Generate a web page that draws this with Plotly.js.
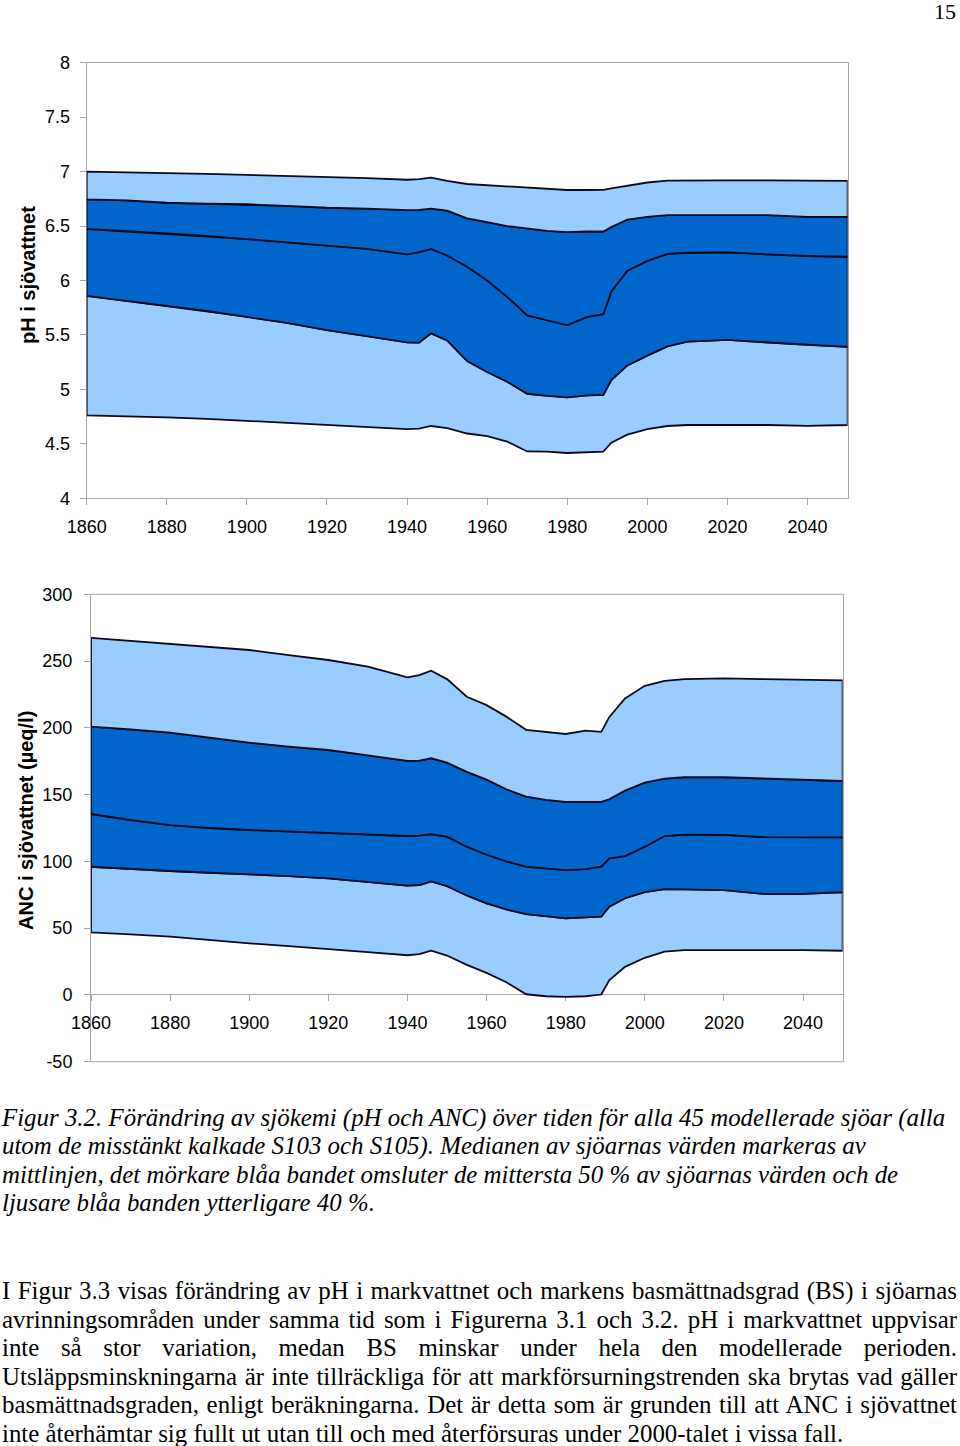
<!DOCTYPE html>
<html>
<head>
<meta charset="utf-8">
<script src="https://cdn.plot.ly/plotly-3.0.1.min.js"></script>
<style>
  html, body { margin: 0; padding: 0; background: #fff; }
  #wrap { position: relative; width: 960px; height: 1446px; overflow: hidden; }
  #chart { position: absolute; left: 0; top: 0; width: 960px; height: 1446px; }
  .serif { font-family: "Liberation Serif", "Times New Roman", "DejaVu Serif", serif; color: #000; }
  #pagenum { position: absolute; right: 4px; top: 4px; font-size: 22px; line-height: 16px; }
  #caption { position: absolute; left: 2px; top: 1104px; font-size: 24.9px; line-height: 28.4px; font-style: italic; white-space: nowrap; }
  #para { position: absolute; left: 2px; top: 1277px; width: 955px; font-size: 24.9px; line-height: 28.5px; }
  #para .j { text-align: justify; text-align-last: justify; white-space: nowrap; }
  #para .l { text-align: left; white-space: nowrap; }
</style>
</head>
<body>
<div id="wrap">
  <div id="chart"></div>
  <div id="pagenum" class="serif">15</div>
  <div id="caption" class="serif">Figur 3.2. Förändring av sjökemi (pH och ANC) över tiden för alla 45 modellerade sjöar (alla<br>utom de misstänkt kalkade S103 och S105). Medianen av sjöarnas värden markeras av<br>mittlinjen, det mörkare blåa bandet omsluter de mittersta 50 % av sjöarnas värden och de<br>ljusare blåa banden ytterligare 40 %.</div>
  <div id="para" class="serif">
    <div class="j">I Figur 3.3 visas förändring av pH i markvattnet och markens basmättnadsgrad (BS) i sjöarnas</div>
    <div class="j">avrinningsområden under samma tid som i Figurerna 3.1 och 3.2. pH i markvattnet uppvisar</div>
    <div class="j">inte så stor variation, medan BS minskar under hela den modellerade perioden.</div>
    <div class="j">Utsläppsminskningarna är inte tillräckliga för att markförsurningstrenden ska brytas vad gäller</div>
    <div class="j">basmättnadsgraden, enligt beräkningarna. Det är detta som är grunden till att ANC i sjövattnet</div>
    <div class="l">inte återhämtar sig fullt ut utan till och med återförsuras under 2000-talet i vissa fall.</div>
  </div>
</div>
<script>
// ---- data ----
const years = [1860,1870,1880,1890,1900,1910,1920,1930,1940,1943,1946,1950,1955,1960,1965,1970,1975,1980,1985,1989,1991,1995,2000,2005,2010,2020,2030,2040,2050];

const ph_p95 = [7.00,6.995,6.99,6.98,6.97,6.96,6.953,6.94,6.925,6.93,6.945,6.915,6.886,6.875,6.86,6.847,6.84,6.831,6.831,6.832,6.845,6.87,6.90,6.918,6.92,6.92,6.92,6.92,6.915];
const ph_p75 = [6.745,6.735,6.714,6.705,6.70,6.685,6.668,6.66,6.647,6.648,6.66,6.642,6.571,6.535,6.50,6.478,6.455,6.445,6.45,6.45,6.49,6.56,6.585,6.60,6.60,6.60,6.60,6.585,6.585];
const ph_p50 = [6.473,6.45,6.433,6.41,6.381,6.35,6.32,6.29,6.24,6.26,6.289,6.23,6.127,6.0,5.85,5.68,5.635,5.59,5.665,5.69,5.90,6.09,6.18,6.245,6.255,6.258,6.24,6.225,6.218];
const ph_p25 = [5.858,5.81,5.766,5.72,5.668,5.61,5.545,5.49,5.432,5.43,5.515,5.45,5.26,5.16,5.07,4.96,4.94,4.927,4.945,4.95,5.086,5.22,5.31,5.395,5.438,5.454,5.43,5.41,5.39];
const ph_p5  = [4.762,4.752,4.744,4.73,4.713,4.695,4.673,4.655,4.636,4.64,4.664,4.645,4.595,4.572,4.52,4.43,4.428,4.416,4.42,4.428,4.51,4.585,4.635,4.664,4.673,4.673,4.673,4.665,4.673];

const anc_p95 = [267.3,265,262.8,260.5,258.3,254.5,250.8,245.8,237.8,239.5,242.8,236.5,223.3,217,208.4,198.5,197.2,195.4,197.9,197,208,222,231.5,235.1,236.5,237,236.5,236,235.5];
const anc_p75 = [200.9,198.8,196.4,192.7,188.9,186,183.4,179.5,175.2,175.5,177.2,173.9,167,161.2,154,148.5,146,144.6,144.6,144.6,146.5,153,159,162,163,163,162,161,160.2];
const anc_p50 = [135.5,131,127.2,125,123.5,122.3,121.2,120,119,119.3,120.3,118.5,111,105,100,96,94.5,93.5,94.2,96,102.3,104,111,119,120,119.8,118.2,118,118];
const anc_p25 = [96,94.3,92.8,91.5,90.5,89,87.3,84.5,81.8,82.3,85,81.5,74.5,68.5,64,60.5,59,57.4,58.1,58.6,66,72.4,77,79.3,79,78.5,75.6,75.6,76.9];
const anc_p5  = [46.9,45.3,43.6,41,38.6,36.5,34.4,32,29.7,30.5,33.1,29.5,22.5,16.5,9.5,0.5,-1,-1.5,-1,0.3,11,21,27.8,32.5,33.5,33.6,33.5,33.5,33.1];

const xTicks = [1860,1880,1900,1920,1940,1960,1980,2000,2020,2040];
const phTicks = [4,4.5,5,5.5,6,6.5,7,7.5,8];
const phTickText = ['4','4.5','5','5.5','6','6.5','7','7.5','8'];
const ancTicks = [-50,0,50,100,150,200,250,300];

// ---- styles ----
const LIGHT = '#99CCFF';
const DARK = '#0066CC';
const EDGE = '#0a0a1e';
const AXIS = '#a6a6a6';
const FONT = 'Arial, "Liberation Sans", sans-serif';

function band(lower, upper, color, xa, ya) {
  const x = years.concat(years.slice().reverse(), [years[0]]);
  const y = upper.concat(lower.slice().reverse(), [upper[0]]);
  return {
    type: 'scatter', mode: 'lines', x: x, y: y, xaxis: xa, yaxis: ya,
    fill: 'toself', fillcolor: color,
    line: {color: EDGE, width: 1.8},
    hoverinfo: 'skip', showlegend: false
  };
}

const traces = [
  band(ph_p5, ph_p25, LIGHT, 'x', 'y'),
  band(ph_p25, ph_p50, DARK, 'x', 'y'),
  band(ph_p50, ph_p75, DARK, 'x', 'y'),
  band(ph_p75, ph_p95, LIGHT, 'x', 'y'),
  band(anc_p5, anc_p25, LIGHT, 'x2', 'y2'),
  band(anc_p25, anc_p50, DARK, 'x2', 'y2'),
  band(anc_p50, anc_p75, DARK, 'x2', 'y2'),
  band(anc_p75, anc_p95, LIGHT, 'x2', 'y2')
];

const W = 960, H = 1446;
const px = v => v / W;
const py = v => 1 - v / H;

const tickFont = {family: FONT, size: 18, color: '#000'};

const layout = {
  width: W, height: H, autosize: false,
  margin: {l: 0, r: 0, t: 0, b: 0, pad: 0},
  paper_bgcolor: '#fff', plot_bgcolor: 'rgba(0,0,0,0)',
  showlegend: false,
  font: {family: FONT, color: '#000'},
  xaxis: {
    domain: [px(86.7), px(847.6)], anchor: 'y', range: [1860, 2050],
    tickmode: 'array', tickvals: xTicks, ticktext: xTicks.map(String),
    ticks: 'outside', ticklen: 6, tickcolor: AXIS, tickwidth: 1,
    showline: true, linecolor: AXIS, linewidth: 1, mirror: true,
    showgrid: false, zeroline: false, tickfont: tickFont,
    ticklabelstandoff: 6, layer: 'below traces', fixedrange: true
  },
  yaxis: {
    domain: [py(498.3), py(62.7)], anchor: 'x', range: [4, 8],
    tickmode: 'array', tickvals: phTicks, ticktext: phTickText,
    ticks: 'outside', ticklen: 6, tickcolor: AXIS,
    showline: true, linecolor: AXIS, linewidth: 1, mirror: true,
    showgrid: false, zeroline: false, tickfont: tickFont,
    ticklabelstandoff: 6, layer: 'below traces', fixedrange: true
  },
  yaxis3: {
    overlaying: 'y', side: 'right', anchor: 'x', range: [4, 8],
    tickmode: 'array', tickvals: phTicks, ticktext: phTickText,
    ticks: 'inside', ticklen: 6, tickcolor: AXIS,
    showline: false, showgrid: false, zeroline: false, tickfont: tickFont,
    ticklabelstandoff: 12, layer: 'below traces', fixedrange: true
  },
  xaxis2: {
    domain: [px(91), px(842.6)], anchor: 'free', position: py(994), range: [1860, 2050],
    tickmode: 'array', tickvals: xTicks, ticktext: xTicks.map(String),
    ticks: 'outside', ticklen: 6, tickcolor: AXIS, tickwidth: 1,
    showline: true, linecolor: AXIS, linewidth: 1,
    showgrid: false, zeroline: false, tickfont: tickFont,
    ticklabelstandoff: 6, layer: 'below traces', fixedrange: true
  },
  yaxis2: {
    domain: [py(1061.7), py(594.3)], anchor: 'x2', range: [-50, 300],
    tickmode: 'array', tickvals: ancTicks, ticktext: ancTicks.map(String),
    ticks: 'outside', ticklen: 6, tickcolor: AXIS,
    showline: true, linecolor: AXIS, linewidth: 1, mirror: true,
    showgrid: false, zeroline: false, tickfont: tickFont,
    ticklabelstandoff: 8, layer: 'below traces', fixedrange: true
  },
  yaxis4: {
    overlaying: 'y2', side: 'right', anchor: 'x2', range: [-50, 300],
    tickmode: 'array', tickvals: ancTicks, ticktext: ancTicks.map(String),
    ticks: 'inside', ticklen: 6, tickcolor: AXIS,
    showline: false, showgrid: false, zeroline: false, tickfont: tickFont,
    ticklabelstandoff: 12, layer: 'below traces', fixedrange: true
  },
  shapes: [
    {type: 'line', xref: 'x2 domain', yref: 'y2 domain', x0: 0, x1: 1, y0: 1, y1: 1,
     line: {color: AXIS, width: 1}, layer: 'below'},
    {type: 'line', xref: 'x2 domain', yref: 'y2 domain', x0: 0, x1: 1, y0: 0, y1: 0,
     line: {color: AXIS, width: 1}, layer: 'below'}
  ],
  annotations: [
    {text: '<b>pH i sjövattnet</b>', xref: 'paper', yref: 'paper', x: px(28), y: py(275),
     textangle: -90, showarrow: false, xanchor: 'center', yanchor: 'middle',
     font: {family: FONT, size: 20, color: '#000'}},
    {text: '<b>ANC i sjövattnet (µeq/l)</b>', xref: 'paper', yref: 'paper', x: px(26), y: py(821),
     textangle: -90, showarrow: false, xanchor: 'center', yanchor: 'middle',
     font: {family: FONT, size: 20, color: '#000'}}
  ]
};

Plotly.newPlot('chart', traces, layout, {staticPlot: true, displayModeBar: false});
</script>
</body>
</html>
